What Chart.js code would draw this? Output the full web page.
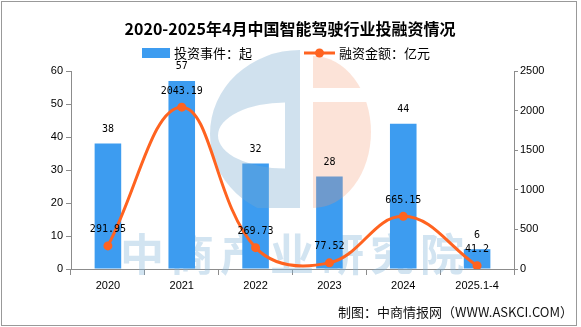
<!DOCTYPE html>
<html>
<head>
<meta charset="utf-8">
<script src="https://cdn.jsdelivr.net/npm/chart.js@4"></script>
<style>
  html, body { margin: 0; padding: 0; background: #fff; }
  canvas { display: block; }
</style>
</head>
<body>
<canvas id="c" width="581" height="327"></canvas>
<script>
// ---- data ----
const categories = ['2020', '2021', '2022', '2023', '2024', '2025.1-4'];
const investEvents = [38, 57, 32, 28, 44, 6];
const financingAmount = [291.95, 2043.19, 269.73, 77.52, 665.15, 41.2];
const leftAxis = { min: 0, max: 60, step: 10 };
const rightAxis = { min: 0, max: 2500, step: 500 };
const seriesLabels = ['投资事件：起', '融资金额：亿元'];
const titleText = '2020-2025年4月中国智能驾驶行业投融资情况';
const footerText = '制图：中商情报网（WWW.ASKCI.COM）';
const watermarkText = '中商产业研究院';

const barColor = '#3d9cf0';
const lineColor = '#ff6320';
const axisColor = '#8c8c8c';
const cjk = '"Noto Sans CJK SC", "Noto Sans", sans-serif';

const decor = {
  id: 'decor',
  beforeDatasetsDraw(chart) {
    const ctx = chart.ctx;
    ctx.save();
    ctx.font = 'bold 44px ' + cjk;
    ctx.fillStyle = 'rgba(130,180,215,0.36)';
    ctx.textAlign = 'left';
    ctx.textBaseline = 'middle';
    const chars = Array.from(watermarkText);
    chars.forEach((ch, i) => ctx.fillText(ch, 120 + i * 50, 254));
    ctx.restore();
  },
  beforeDatasetDraw(chart, args) {
    if (args.meta.type !== 'line') return;
    const ctx = chart.ctx;
    // logo watermark
    ctx.save();
    ctx.beginPath();
    ctx.rect(0, 0, 581, 208);
    ctx.clip();
    ctx.beginPath();
    ctx.ellipse(300, 134, 90, 84, 0, Math.PI / 2, Math.PI * 1.5, false);
    ctx.closePath();
    ctx.moveTo(285, 102.5);
    ctx.ellipse(285, 135.5, 67, 33, 0, Math.PI * 1.5, Math.PI / 2, true);
    ctx.closePath();
    ctx.fillStyle = 'rgba(120,170,205,0.35)';
    ctx.fill('evenodd');
    ctx.restore();

    ctx.save();
    ctx.beginPath();
    ctx.rect(313, 0, 100, 88);
    ctx.rect(313, 102, 100, 106);
    ctx.clip();
    ctx.beginPath();
    ctx.ellipse(313, 132, 58, 76, 0, -Math.PI / 2, Math.PI / 2, false);
    ctx.closePath();
    ctx.fillStyle = 'rgba(245,150,110,0.27)';
    ctx.fill();
    ctx.restore();
  },
  afterDatasetsDraw(chart) {
    const ctx = chart.ctx;
    ctx.save();
    ctx.font = '10px "DejaVu Sans Mono", monospace';
    ctx.fillStyle = '#000';
    ctx.textAlign = 'center';
    ctx.textBaseline = 'middle';
    const barMeta = chart.getDatasetMeta(0);
    barMeta.data.forEach((el, i) => {
      ctx.fillText(String(investEvents[i]), el.x, el.y - 14);
    });
    const lineMeta = chart.getDatasetMeta(1);
    lineMeta.data.forEach((el, i) => {
      ctx.fillText(String(financingAmount[i]), el.x, el.y - 16);
    });
    ctx.restore();
  },
  afterDraw(chart) {
    const ctx = chart.ctx;
    ctx.save();
    // title
    ctx.font = 'bold 16px ' + cjk;
    ctx.fillStyle = '#000';
    ctx.textAlign = 'center';
    ctx.textBaseline = 'middle';
    ctx.fillText(titleText, 290, 29);
    // legend
    ctx.font = '13px ' + cjk;
    ctx.textAlign = 'left';
    ctx.fillStyle = barColor;
    ctx.fillRect(142, 48, 28, 10);
    ctx.fillStyle = '#000';
    ctx.fillText(seriesLabels[0], 174, 53);
    ctx.strokeStyle = lineColor;
    ctx.lineWidth = 3;
    ctx.beginPath();
    ctx.moveTo(304, 53);
    ctx.lineTo(335, 53);
    ctx.stroke();
    ctx.fillStyle = lineColor;
    ctx.beginPath();
    ctx.arc(319.5, 53, 4.5, 0, Math.PI * 2);
    ctx.fill();
    ctx.fillStyle = '#000';
    ctx.fillText(seriesLabels[1], 339, 53);
    // footer
    ctx.textAlign = 'right';
    ctx.fillStyle = '#111';
    ctx.fillText(footerText, 573, 312);
    // border
    ctx.strokeStyle = '#999';
    ctx.lineWidth = 1;
    ctx.strokeRect(1.5, 1.5, 575, 324);
    ctx.restore();
  }
};

const tickFont = { family: '"Liberation Sans", Arial, sans-serif', size: 11 };
const plainTick = (v) => String(v);

new Chart(document.getElementById('c'), {
  data: {
    labels: categories,
    datasets: [
      {
        type: 'bar',
        label: seriesLabels[0],
        data: investEvents,
        yAxisID: 'y',
        backgroundColor: barColor,
        barPercentage: 0.36,
        categoryPercentage: 1,
        order: 1
      },
      {
        type: 'line',
        label: seriesLabels[1],
        data: financingAmount,
        yAxisID: 'y1',
        borderColor: lineColor,
        backgroundColor: lineColor,
        borderWidth: 3,
        pointRadius: 4.5,
        pointBackgroundColor: lineColor,
        pointBorderWidth: 0,
        tension: 0.4,
        order: 0
      }
    ]
  },
  options: {
    responsive: false,
    devicePixelRatio: 1,
    animation: false,
    layout: { padding: { top: 71, left: 0, right: 0, bottom: 0 } },
    plugins: {
      legend: { display: false },
      title: { display: false },
      tooltip: { enabled: false }
    },
    scales: {
      x: {
        type: 'category',
        offset: true,
        grid: { offset: true, drawOnChartArea: false, drawTicks: true, tickLength: 6, color: axisColor },
        border: { display: true, color: axisColor },
        ticks: { font: tickFont, color: '#000', padding: 4, maxRotation: 0, autoSkip: false },
        afterFit(s) { s.height = 58; }
      },
      y: {
        position: 'left',
        min: leftAxis.min, max: leftAxis.max,
        ticks: { stepSize: leftAxis.step, font: tickFont, color: '#000', padding: 3, callback: plainTick },
        grid: { drawOnChartArea: false, tickLength: 5, color: axisColor },
        border: { display: true, color: axisColor },
        afterFit(s) { s.width = 71; }
      },
      y1: {
        position: 'right',
        min: rightAxis.min, max: rightAxis.max,
        ticks: { stepSize: rightAxis.step, font: tickFont, color: '#000', padding: 2, callback: plainTick },
        grid: { drawOnChartArea: false, tickLength: 4, color: axisColor },
        border: { display: true, color: axisColor },
        afterFit(s) { s.width = 67; }
      }
    }
  },
  plugins: [decor]
});
</script>
</body>
</html>
